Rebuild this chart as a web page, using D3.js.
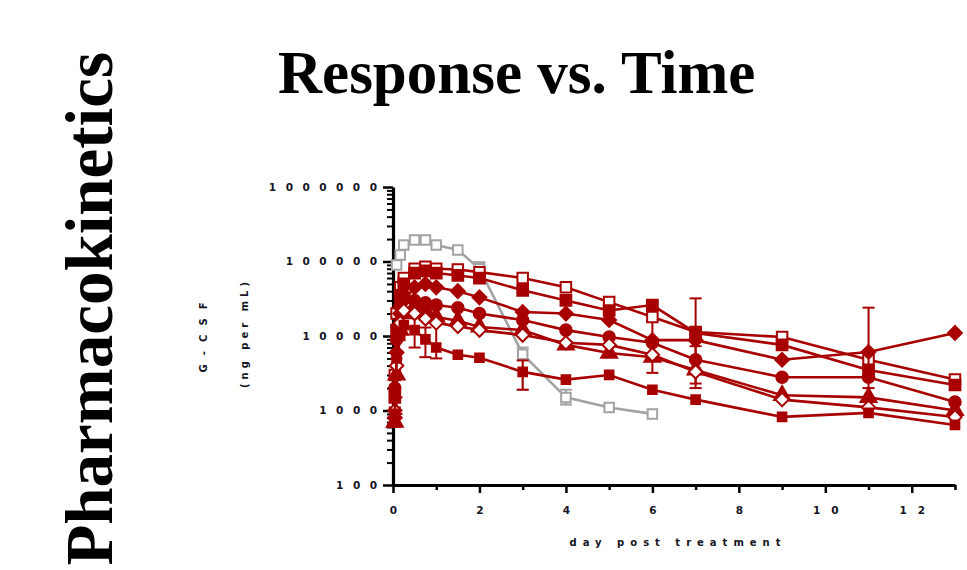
<!DOCTYPE html>
<html>
<head>
<meta charset="utf-8">
<script src="https://cdn.jsdelivr.net/npm/d3@7"></script>
<style>
  body { margin: 0; background: #fff; }
  svg { display: block; }
  .axis path, .axis line { stroke: #000; }
  .axis text { font-family: "DejaVu Sans", sans-serif; font-weight: bold; font-size: 10.5px; fill: #141424; }
  .label { font-family: "DejaVu Sans", sans-serif; font-weight: bold; font-size: 10px; fill: #141424; }
  .big { font-family: "Liberation Serif", "Times New Roman", serif; font-weight: bold; fill: #000; }
</style>
</head>
<body>
<div id="chart"></div>
<script>
// sampling days shared by the red groups
const days = [0.042, 0.083, 0.167, 0.25, 0.5, 0.75, 1, 1.5, 2, 3, 4, 5, 6, 7, 9, 11, 13];

// G-CSF, ng per mL
const groupA = [3000, 20000, 45000, 60000, 80000, 85000, 80000, 78000, 72000, 60000, 45000, 28500, 18000, 11300, 9700, 4800, 2600];
const groupB = [1500, 12000, 35000, 50000, 70000, 75000, 70000, 65000, 60000, 41000, 30000, 22000, 26000, 11000, 7600, 3500, 2200];
const groupC = [800, 6000, 20000, 30000, 45000, 50000, 45000, 40000, 33000, 21000, 20000, 16400, 8800, 8800, 4800, 6100, 11000];
const groupD = [2000, 9000, 25000, 35000, 30000, 28000, 26000, 24000, 20000, 16400, 12000, 9700, 8100, 4800, 2800, 2800, 1300];
const groupE = [700, 3000, 12000, 20000, 25000, 22000, 18000, 16000, 13200, 12000, 7600, 5900, 5200, 3500, 1600, 1500, 1000];
const groupF = [1000, 4000, 15000, 22000, 20000, 17000, 15000, 13500, 12000, 10300, 8100, 7600, 5600, 3300, 1400, 1100, 820];
const groupG = [900, 5000, 10000, 14000, 12000, 9000, 7000, 5600, 5100, 3300, 2600, 3000, 1900, 1400, 820, 930, 640];

// the grey group stops at day 6
const greyDays = [0.083, 0.167, 0.25, 0.5, 0.75, 1, 1.5, 2, 3, 4, 5, 6];
const groupGrey = [90000, 122000, 167000, 194000, 194000, 167000, 143000, 80000, 5700, 1500, 1100, 900];

// error bars: [group, day, low, high]
const errorBars = [
  ['B', 7, 2000, 32000],
  ['A', 6, 8000, 28000],
  ['C', 11, 2000, 24000],
  ['F', 6, 3200, 8800],
  ['D', 7, 2300, 7300],
  ['G', 3, 1900, 4700],
  ['G', 0.083, 1500, 8500],
  ['E', 0.083, 900, 5000],
  ['C', 0.042, 600, 1100],
  ['G', 0.75, 5200, 13000],
  ['F', 1, 5000, 25000],
  ['E', 0.5, 7000, 43000],
  ['Grey', 2, 65000, 98000],
  ['Grey', 3, 1900, 7000],
  ['Grey', 4, 1200, 1900]
];

const yTicks = [100, 1000, 10000, 100000, 1000000];
const xTicks = [0, 2, 4, 6, 8, 10, 12];
const xMinor = [1, 3, 5, 7, 9, 11, 13];

// square turned 45 degrees, as Prism draws its diamonds
const symbolRhomb = {
  draw(context, size) {
    const r = Math.sqrt(size / 2);
    context.moveTo(0, -r);
    context.lineTo(r, 0);
    context.lineTo(0, r);
    context.lineTo(-r, 0);
    context.closePath();
  }
};

class ResponseChart {
  constructor(_config) {
    this.config = {
      parentElement: _config.parentElement,
      containerWidth: _config.containerWidth || 967,
      containerHeight: _config.containerHeight || 570,
      red: '#a80000',
      grey: '#a3a3a3'
    };
    this.initVis();
  }

  initVis() {
    let vis = this;
    const red = vis.config.red, grey = vis.config.grey;

    vis.svg = d3.select(vis.config.parentElement).append('svg')
      .attr('width', vis.config.containerWidth)
      .attr('height', vis.config.containerHeight);

    vis.x = d3.scaleLinear().domain([0, 13]).range([393, 955]);
    vis.y = d3.scaleLog().domain([100, 1000000]).range([485, 187]);

    // titles
    vis.svg.append('text')
      .attr('class', 'big')
      .attr('x', 278).attr('y', 93)
      .style('font-size', '61px')
      .text('Response vs. Time');

    vis.svg.append('text')
      .attr('class', 'big')
      .attr('transform', 'translate(112,52) rotate(-90)')
      .attr('text-anchor', 'end')
      .style('font-size', '67px')
      .text('Pharmacokinetics');

    // axis titles
    vis.svg.append('text')
      .attr('class', 'label')
      .attr('transform', 'translate(207,333) rotate(-90)')
      .attr('text-anchor', 'middle')
      .style('letter-spacing', '9px')
      .text('G-CSF');
    vis.svg.append('text')
      .attr('class', 'label')
      .attr('transform', 'translate(248,333) rotate(-90)')
      .attr('text-anchor', 'middle')
      .style('letter-spacing', '4px')
      .text('(ng per mL)');
    vis.svg.append('text')
      .attr('class', 'label')
      .attr('x', 678).attr('y', 546)
      .attr('text-anchor', 'middle')
      .style('letter-spacing', '6px')
      .text('day post treatment');

    // minor y ticks
    let minors = [];
    [100, 1000, 10000, 100000].forEach(d => { for (let k = 2; k < 10; k++) minors.push(d * k); });
    vis.svg.append('g')
      .attr('class', 'axis')
      .attr('transform', 'translate(393,0)')
      .call(d3.axisLeft(vis.y).tickValues(minors).tickSize(6).tickFormat(''))
      .call(g => g.select('.domain').remove())
      .selectAll('line').attr('stroke-width', 2);

    vis.yAxis = vis.svg.append('g')
      .attr('class', 'axis')
      .attr('transform', 'translate(393,0)')
      .call(d3.axisLeft(vis.y).tickValues(yTicks).tickSize(10).tickSizeOuter(0)
        .tickPadding(6).tickFormat(d3.format('d')));
    vis.yAxis.select('.domain').attr('stroke-width', 3.2);
    vis.yAxis.selectAll('line').attr('stroke-width', 2.5);
    vis.yAxis.selectAll('text').style('letter-spacing', '9.5px').attr('dx', 9.5);

    vis.svg.append('g')
      .attr('class', 'axis')
      .attr('transform', 'translate(0,485)')
      .call(d3.axisBottom(vis.x).tickValues(xMinor).tickSize(5).tickFormat(''))
      .call(g => g.select('.domain').remove())
      .selectAll('line').attr('stroke-width', 2.5);

    vis.xAxis = vis.svg.append('g')
      .attr('class', 'axis')
      .attr('transform', 'translate(0,485)')
      .call(d3.axisBottom(vis.x).tickValues(xTicks).tickSize(8).tickSizeOuter(0).tickPadding(14));
    vis.xAxis.select('.domain').attr('stroke-width', 3.2);
    vis.xAxis.selectAll('line').attr('stroke-width', 2.5);
    vis.xAxis.selectAll('text').style('letter-spacing', '11px').attr('dx', 5.5);

    // groups
    const groups = [
      {key: 'Grey', days: greyDays, values: groupGrey, color: grey, shape: d3.symbolSquare, size: 90, open: true},
      {key: 'A', days: days, values: groupA, color: red, shape: d3.symbolSquare, size: 110, open: true},
      {key: 'B', days: days, values: groupB, color: red, shape: d3.symbolSquare, size: 115, open: false},
      {key: 'C', days: days, values: groupC, color: red, shape: symbolRhomb, size: 95, open: false},
      {key: 'D', days: days, values: groupD, color: red, shape: d3.symbolCircle, size: 105, open: false},
      {key: 'E', days: days, values: groupE, color: red, shape: d3.symbolTriangle, size: 110, open: false},
      {key: 'F', days: days, values: groupF, color: red, shape: symbolRhomb, size: 90, open: true},
      {key: 'G', days: days, values: groupG, color: red, shape: d3.symbolSquare, size: 75, open: false}
    ];

    const line = d3.line()
      .x(d => vis.x(d.day))
      .y(d => vis.y(d.value));

    vis.plot = vis.svg.append('g');

    groups.forEach(grp => {
      const pts = grp.days.map((d, i) => ({day: d, value: grp.values[i]}));
      const g = vis.plot.append('g').attr('class', 'group-' + grp.key);

      g.append('path')
        .datum(pts)
        .attr('d', line)
        .attr('fill', 'none')
        .attr('stroke', grp.color)
        .attr('stroke-width', 2.6);

      const errs = errorBars.filter(e => e[0] === grp.key);
      const eg = g.selectAll('.err').data(errs).enter().append('g')
        .attr('stroke', grp.color).attr('stroke-width', 2);
      eg.append('line')
        .attr('x1', e => vis.x(e[1])).attr('x2', e => vis.x(e[1]))
        .attr('y1', e => vis.y(e[2])).attr('y2', e => vis.y(e[3]));
      eg.append('line')
        .attr('x1', e => vis.x(e[1]) - 6).attr('x2', e => vis.x(e[1]) + 6)
        .attr('y1', e => vis.y(e[2])).attr('y2', e => vis.y(e[2]));
      eg.append('line')
        .attr('x1', e => vis.x(e[1]) - 6).attr('x2', e => vis.x(e[1]) + 6)
        .attr('y1', e => vis.y(e[3])).attr('y2', e => vis.y(e[3]));

      g.selectAll('.pt').data(pts).enter().append('path')
        .attr('transform', d => `translate(${vis.x(d.day)},${vis.y(d.value)})`)
        .attr('d', d3.symbol().type(grp.shape).size(grp.size))
        .attr('fill', grp.open ? '#fff' : grp.color)
        .attr('stroke', grp.color)
        .attr('stroke-width', 2);
    });
  }
}

new ResponseChart({parentElement: '#chart'});
</script>
</body>
</html>
